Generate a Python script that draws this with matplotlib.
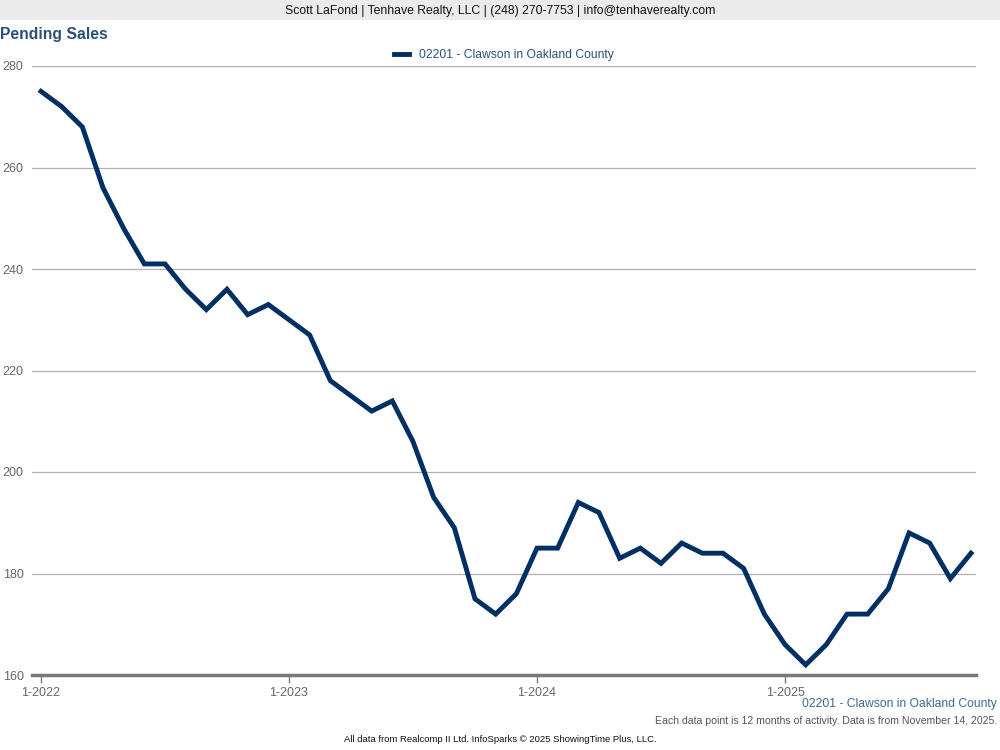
import numpy as np
import matplotlib.pyplot as plt
from matplotlib.patches import Rectangle

plt.rcParams['font.family'] = ['Liberation Sans', 'DejaVu Sans']

# 12-month rolling pending sales, Jan 2022 - Oct 2025
months = ['%d-%d' % (m, y) for y in range(2022, 2026) for m in range(1, 13)][:46]
pending = [275, 272, 268, 256, 248, 241, 241, 236, 232, 236, 231, 233,
           230, 227, 218, 215, 212, 214, 206, 195, 189, 175, 172, 176,
           185, 185, 194, 192, 183, 185, 182, 186, 184, 184, 181, 172,
           166, 162, 166, 172, 172, 177, 188, 186, 179, 184]
year_labels = ['1-2022', '1-2023', '1-2024', '1-2025']
yticks = [160, 180, 200, 220, 240, 260, 280]

line_color = '#002f63'
label_color = '#3d6a99'

fig = plt.figure(figsize=(10, 7.5), dpi=100)
fig.patches.append(Rectangle((0, 1 - 20 / 750), 1, 20 / 750, transform=fig.transFigure,
                             facecolor='#ebebeb', edgecolor='none', zorder=0))
fig.text(0.5, 1 - 11 / 750, 'Scott LaFond | Tenhave Realty, LLC | (248) 270-7753 | info@tenhaverealty.com',
         ha='center', va='center', fontsize=8.8, color='#111111')
fig.text(0.0, 1 - 35 / 750, 'Pending Sales', ha='left', va='center', fontsize=11.3,
         fontweight='bold', color='#2d5079')

ax = fig.add_axes([32 / 1000, 1 - 675 / 750, (976 - 32) / 1000, (675 - 66) / 750])
x = np.arange(len(pending))
ax.plot(x, pending, color=line_color, linewidth=3.5, solid_joinstyle='miter',
        label='02201 - Clawson in Oakland County')

ax.set_xlim(-9 / 20.67, 45 + 5 / 20.67)
ax.set_ylim(160, 280)
ax.set_yticks(yticks)
ax.yaxis.grid(True, color='#b0b0b0', linewidth=0.9)
ax.set_axisbelow(True)
ax.tick_params(axis='y', length=0, pad=6, labelsize=9, labelcolor='#666666')
ax.set_yticklabels([str(v) for v in yticks], ha='right')

xt = [months.index(l) for l in year_labels]
ax.set_xticks(xt)
ax.set_xticklabels(year_labels)
ax.tick_params(axis='x', length=6, width=1, color='#777777', labelsize=9,
               labelcolor='#666666', pad=3)

for s in ['top', 'right', 'left']:
    ax.spines[s].set_visible(False)
ax.spines['bottom'].set_color('#777777')
ax.spines['bottom'].set_linewidth(2.5)

leg = ax.legend(loc='lower center', bbox_to_anchor=(0.5, 1.0), frameon=False,
                fontsize=8.7, handlelength=1.2, borderaxespad=0.0)
for t in leg.get_texts():
    t.set_color('#2d5079')

fig.text(0.997, 1 - 704 / 750, '02201 - Clawson in Oakland County', ha='right', va='center',
         fontsize=8.7, color=label_color)
fig.text(0.997, 1 - 721 / 750, 'Each data point is 12 months of activity. Data is from November 14, 2025.',
         ha='right', va='center', fontsize=7.6, color='#555555')
fig.text(0.5, 1 - 740 / 750, 'All data from Realcomp II Ltd. InfoSparks \u00a9 2025 ShowingTime Plus, LLC.',
         ha='center', va='center', fontsize=6.8, color='#111111')

fig.savefig('out.png', dpi=100)
